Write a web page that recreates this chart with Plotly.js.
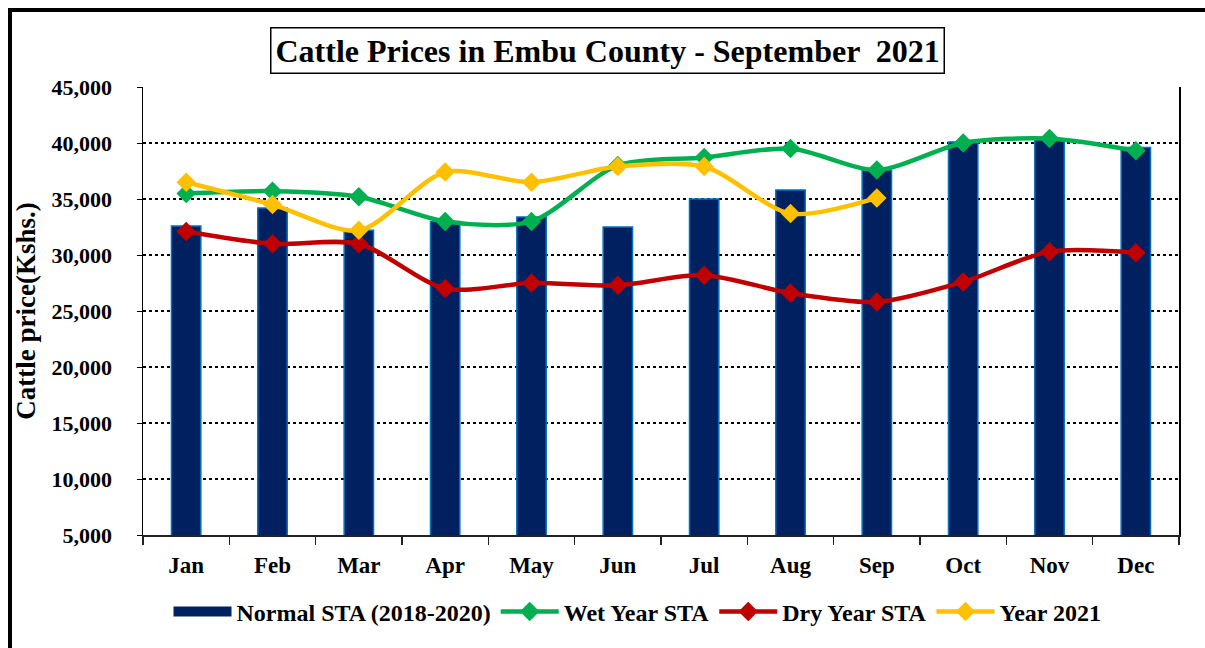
<!DOCTYPE html>
<html>
<head>
<meta charset="utf-8">
<script src="https://cdn.plot.ly/plotly-3.0.1.min.js"></script>
<style>html,body{margin:0;padding:0;background:#fff;}#chart{width:1205px;height:648px;}</style>
</head>
<body>
<div id="chart"></div>
<script>
const months = ["Jan","Feb","Mar","Apr","May","Jun","Jul","Aug","Sep","Oct","Nov","Dec"];
const normalSTA = [32600,34200,32200,33000,33400,32500,35000,35800,37600,40100,40300,39600];
const wetYearSTA = [35500,35700,35200,33000,33000,38000,38700,39500,37600,40000,40400,39300];
const dryYearSTA = [32100,31000,31000,27000,27500,27300,28200,26600,25800,27600,30300,30200];
const year2021Months = ["Jan","Feb","Mar","Apr","May","Jun","Jul","Aug","Sep"];
const year2021 = [36500,34500,32200,37400,36500,37900,37900,33700,35100];
const yTicks = [5000,10000,15000,20000,25000,30000,35000,40000,45000];

const font = "Liberation Serif, Times New Roman, serif";
const L=143, R=26, T=87, B=113, W=1205, H=648;
const pw = W-L-R, ph = H-T-B;
const px = v => (v-L)/pw, py = v => (H-B-v)/ph;

function lineTrace(name, x, y, color){
  return {type:'scatter', mode:'lines+markers', name:name, x:x, y:y,
    line:{color:color, width:4.5, shape:'spline', smoothing:0.8},
    marker:{symbol:'diamond', size:15, color:color}};
}

const data = [
  {type:'bar', name:'Normal STA (2018-2020)', x:months, y:normalSTA, width:0.34, showlegend:false,
   marker:{color:'#002060', line:{color:'#0070C0', width:1.5}}},
  {type:'scatter', mode:'lines', name:'Normal STA (2018-2020)', x:[null], y:[null],
   line:{color:'#002060', width:13}, hoverinfo:'skip'},
  lineTrace('Wet Year STA', months, wetYearSTA, '#00B050'),
  lineTrace('Dry Year STA', months, dryYearSTA, '#C00000'),
  lineTrace('Year 2021', year2021Months, year2021, '#FFC000')
];

const layout = {
  width:W, height:H, margin:{l:L, r:R, t:T, b:B},
  paper_bgcolor:'#fff', plot_bgcolor:'#fff',
  font:{family:font, color:'#000'},
  showlegend:true,
  legend:{orientation:'h', x:px(637.5), xanchor:'center', y:py(612), yanchor:'middle',
    font:{family:font, size:24, color:'#000', weight:'bold'}, itemwidth:58, traceorder:'normal'},
  xaxis:{type:'category', categoryorder:'array', categoryarray:months, range:[-0.5,11.5],
    showline:true, linecolor:'#222', linewidth:2, mirror:false,
    ticks:'outside', tickson:'boundaries', ticklen:8, tickcolor:'#222', tickwidth:1.5,
    tickfont:{family:font, size:23, weight:'bold', color:'#000'}, ticklabelstandoff:8,
    showgrid:false, zeroline:false},
  yaxis:{range:[5000,45000], tickvals:yTicks, tickformat:',d',
    showline:true, linecolor:'#000', linewidth:1.5, mirror:true,
    ticks:'outside', ticklen:5, tickcolor:'#000',
    tickfont:{family:font, size:22, weight:'bold', color:'#000'}, ticklabelstandoff:20,
    showgrid:true, gridcolor:'#000', gridwidth:2, griddash:'dot', zeroline:false,
    title:{text:'Cattle price(Kshs.)', font:{family:font, size:27, weight:'bold', color:'#000'}, standoff:8}},
  annotations:[{xref:'paper', yref:'paper', x:px(607.5), y:py(50.5), xanchor:'center', yanchor:'middle',
    showarrow:false, text:'Cattle Prices in Embu County - September  2021',
    font:{family:font, size:32, weight:'bold', color:'#000'},
    bordercolor:'#000', borderwidth:1.5, borderpad:4, bgcolor:'#fff'}],
  shapes:[{type:'rect', xref:'paper', yref:'paper', x0:px(10), y0:py(700), x1:px(1260), y1:py(10),
    line:{color:'#000', width:4}, fillcolor:'rgba(0,0,0,0)', layer:'below'}]
};

Plotly.newPlot('chart', data, layout, {displayModeBar:false, staticPlot:true});
</script>
</body>
</html>
